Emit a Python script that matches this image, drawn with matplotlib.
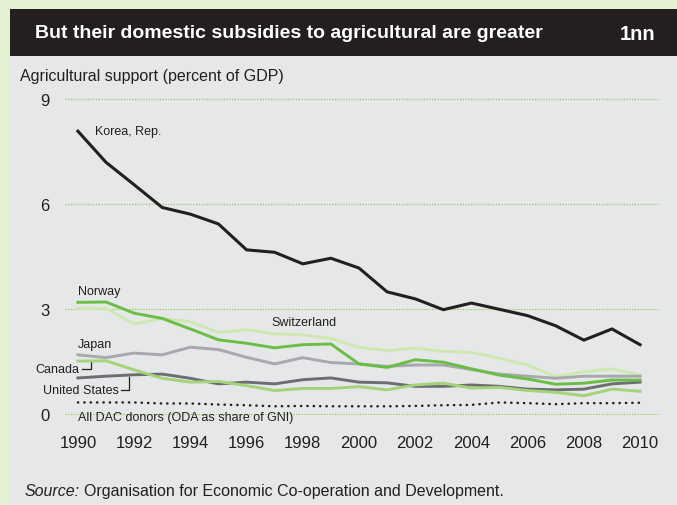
import matplotlib
matplotlib.use("Agg")
import matplotlib.pyplot as plt
from matplotlib.patches import Rectangle
from matplotlib.lines import Line2D

years = list(range(1990, 2011))
korea = [8.08, 7.19, 6.55, 5.90, 5.71, 5.43, 4.69, 4.62, 4.29, 4.45, 4.17, 3.49, 3.29, 2.98, 3.17, 2.99, 2.81, 2.52, 2.11, 2.43, 1.98]
norway = [3.19, 3.20, 2.88, 2.73, 2.43, 2.12, 2.02, 1.89, 1.98, 2.00, 1.43, 1.33, 1.55, 1.48, 1.29, 1.11, 1.00, 0.85, 0.88, 0.97, 0.97]
switzerland = [3.02, 3.02, 2.57, 2.73, 2.64, 2.33, 2.41, 2.29, 2.26, 2.16, 1.91, 1.81, 1.88, 1.79, 1.76, 1.59, 1.40, 1.07, 1.21, 1.29, 1.11]
japan = [1.69, 1.61, 1.74, 1.69, 1.91, 1.84, 1.62, 1.43, 1.61, 1.47, 1.43, 1.36, 1.40, 1.40, 1.27, 1.14, 1.08, 1.02, 1.08, 1.08, 1.08]
canada = [1.51, 1.52, 1.26, 1.02, 0.91, 0.93, 0.81, 0.67, 0.73, 0.73, 0.78, 0.69, 0.83, 0.88, 0.74, 0.76, 0.67, 0.62, 0.52, 0.71, 0.65]
united_states = [1.03, 1.08, 1.12, 1.14, 1.02, 0.86, 0.91, 0.86, 0.98, 1.03, 0.91, 0.89, 0.79, 0.79, 0.83, 0.79, 0.71, 0.69, 0.71, 0.86, 0.91]
dac_oda = [0.33, 0.33, 0.33, 0.30, 0.30, 0.27, 0.25, 0.22, 0.23, 0.22, 0.22, 0.22, 0.23, 0.25, 0.26, 0.33, 0.31, 0.28, 0.31, 0.31, 0.32]
yticks = [0, 3, 6, 9]
xticks = list(range(1990, 2011, 2))

title = "But their domestic subsidies to agricultural are greater"
fig_id = "1nn"
ylabel = "Agricultural support (percent of GDP)"

FONT = ["Liberation Sans", "DejaVu Sans"]
plt.rcParams["font.family"] = FONT

W, H = 677, 506
fig = plt.figure(figsize=(W / 100, H / 100), dpi=100)
fig.patch.set_facecolor("#e3f1d3")

def fx(px):
    return px / W

def fy(py):
    return 1 - py / H

# panel and header
fig.patches.append(Rectangle((fx(10), 0), 1 - fx(10), fy(57), transform=fig.transFigure,
                             facecolor="#e6e7e8", edgecolor="none", zorder=-2))
fig.patches.append(Rectangle((fx(10), fy(57)), 1 - fx(10), fy(10) - fy(57), transform=fig.transFigure,
                             facecolor="#231f20", edgecolor="none", zorder=-2))
fig.text(fx(35), fy(34), title, color="white", fontsize=14, fontweight="bold", va="center", ha="left")
fig.text(fx(655), fy(34), fig_id, color="white", fontsize=14.5, fontweight="bold", va="center", ha="right")
fig.text(fx(20), fy(76), ylabel, color="#231f20", fontsize=11.5, va="center", ha="left")

ax = fig.add_axes([fx(65), fy(425), fx(660) - fx(65), fy(95) - fy(425)])
ax.set_zorder(1)
ax.set_facecolor("none")
ax.set_xlim(1989.54, 2010.71)
ax.set_ylim(-0.286, 9.143)
for s in ax.spines.values():
    s.set_visible(False)
ax.set_yticks(yticks)
ax.set_xticks(xticks)
ax.tick_params(axis="both", length=0, labelsize=12, colors="#231f20")
ax.tick_params(axis="y", pad=11)
ax.tick_params(axis="x", pad=8)
ax.grid(axis="y", color="#8dc63f", linestyle=(0, (1, 1.5)), linewidth=0.8)
ax.grid(axis="x", visible=False)

ax.plot(years, dac_oda, color="#231f20", linestyle=(0, (0.1, 2.45)), linewidth=1.8,
        dash_capstyle="round", zorder=2)
ax.plot(years, switzerland, color="#cfe8b2", linewidth=2.1, zorder=3)
ax.plot(years, japan, color="#a7a9ac", linewidth=2.1, zorder=3)
ax.plot(years, united_states, color="#6d6e71", linewidth=2.1, zorder=3)
ax.plot(years, canada, color="#a3d477", linewidth=2.1, zorder=4)
ax.plot(years, norway, color="#6abd45", linewidth=2.1, zorder=5)
ax.plot(years, korea, color="#231f20", linewidth=2.2, zorder=6)

lab = dict(fontsize=9, color="#231f20", va="center")
ax.text(1990.6, 8.08, "Korea, Rep.", ha="left", **lab)
ax.text(1990.0, 3.52, "Norway", ha="left", **lab)
ax.text(1996.9, 2.62, "Switzerland", ha="left", **lab)
ax.text(1990.0, 2.0, "Japan", ha="left", **lab)
ax.text(1990.05, 1.28, "Canada", ha="right", **lab)
ax.text(1991.45, 0.68, "United States", ha="right", **lab)
ax.text(1990.0, -0.08, "All DAC donors (ODA as share of GNI)", ha="left", **lab)

# leader brackets
ax.add_line(Line2D([1990.15, 1990.45, 1990.45], [1.28, 1.28, 1.48], color="#231f20", linewidth=0.9))
ax.add_line(Line2D([1991.52, 1991.8, 1991.8], [0.68, 0.68, 1.06], color="#231f20", linewidth=0.9))

fig.text(fx(25), fy(492), "Source:", fontsize=11.5, style="italic", color="#231f20", va="center", ha="left")
fig.text(fx(84), fy(492), "Organisation for Economic Co-operation and Development.", fontsize=11.5,
         color="#231f20", va="center", ha="left")

fig.savefig("out.png", dpi=100, facecolor=fig.get_facecolor())
